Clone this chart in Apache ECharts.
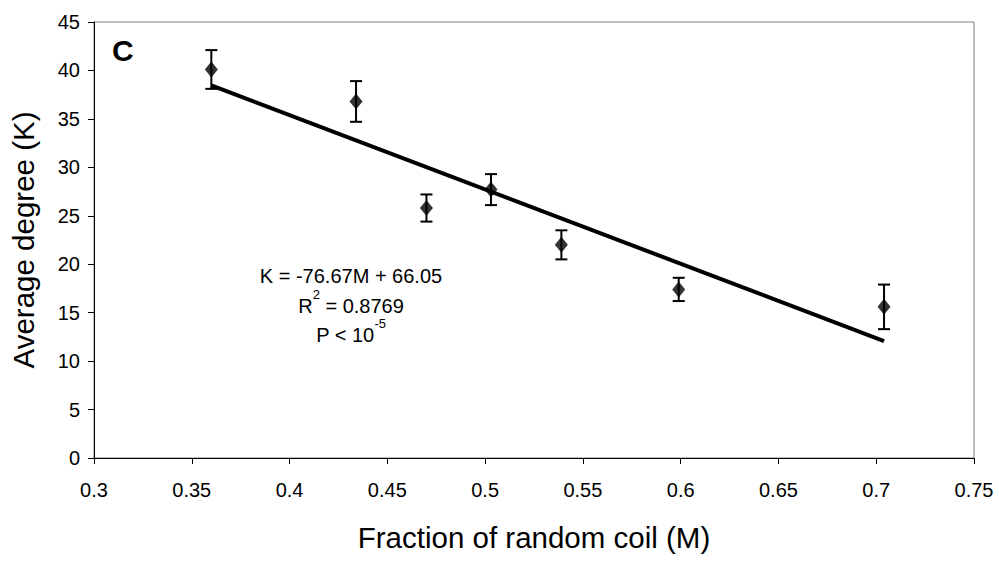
<!DOCTYPE html>
<html>
<head>
<meta charset="utf-8">
<script src="https://cdn.jsdelivr.net/npm/echarts@6/dist/echarts.min.js"></script>
<style>
  html, body { margin: 0; padding: 0; background: #fff; }
  #chart { width: 999px; height: 568px; }
</style>
</head>
<body>
<div id="chart"></div>
<script>
// data
var coilFraction = [0.36, 0.434, 0.47, 0.503, 0.539, 0.599, 0.704];
var avgDegree    = [40.1, 36.8, 25.8, 27.7, 22.0, 17.4, 15.6];
var errHalf      = [2.0, 2.1, 1.4, 1.6, 1.5, 1.2, 2.3];
var xTicks = [0.3, 0.35, 0.4, 0.45, 0.5, 0.55, 0.6, 0.65, 0.7, 0.75];
var yTicks = [0, 5, 10, 15, 20, 25, 30, 35, 40, 45];
var fitSlope = -76.67;
var fitIntercept = 66.05;

var FONT = 'Liberation Sans, Arial, sans-serif';

var points = coilFraction.map(function (x, i) { return [x, avgDegree[i]]; });
var errData = coilFraction.map(function (x, i) {
    return [x, avgDegree[i] - errHalf[i], avgDegree[i] + errHalf[i]];
});
var xLo = Math.min.apply(null, coilFraction);
var xHi = Math.max.apply(null, coilFraction);
var fitLine = [[xLo, fitSlope * xLo + fitIntercept], [xHi, fitSlope * xHi + fitIntercept]];

// rich styles for the superscripts in the annotation
var annRich = {
    n:   { fontFamily: FONT, fontSize: 20, lineHeight: 28, verticalAlign: 'bottom', fill: '#000' },
    sup: { fontFamily: FONT, fontSize: 13, lineHeight: 13, verticalAlign: 'top', fill: '#000' }
};

var chart = echarts.init(document.getElementById('chart'), null, { renderer: 'svg' });

var option = {
    animation: false,
    backgroundColor: '#fff',
    grid: {
        left: 94, right: 25, top: 22, bottom: 110,
        show: true,
        borderColor: '#808080',
        borderWidth: 1
    },
    xAxis: {
        type: 'value',
        min: xTicks[0],
        max: xTicks[xTicks.length - 1],
        interval: 0.05,
        name: 'Fraction of random coil (M)',
        nameLocation: 'middle',
        nameGap: 64,
        nameTextStyle: { fontFamily: FONT, fontSize: 29.5, color: '#000' },
        axisLine: { lineStyle: { color: '#000', width: 1 } },
        axisTick: { show: true, length: 6, lineStyle: { color: '#000' } },
        axisLabel: {
            fontFamily: FONT, fontSize: 20, color: '#000', margin: 22,
            formatter: function (v) { return String(parseFloat(v.toFixed(2))); }
        },
        splitLine: { show: false }
    },
    yAxis: {
        type: 'value',
        min: yTicks[0],
        max: yTicks[yTicks.length - 1],
        interval: 5,
        name: 'Average degree (K)',
        nameLocation: 'middle',
        nameRotate: 90,
        nameGap: 56,
        nameTextStyle: { fontFamily: FONT, fontSize: 29.5, color: '#000' },
        axisLine: { show: true, lineStyle: { color: '#000', width: 1 } },
        axisTick: { show: true, length: 6, lineStyle: { color: '#000' } },
        axisLabel: { fontFamily: FONT, fontSize: 20, color: '#000', margin: 14 },
        splitLine: { show: false }
    },
    series: [
        {
            // linear fit K = -76.67M + 66.05
            type: 'line',
            data: fitLine,
            symbol: 'none',
            lineStyle: { color: '#000', width: 4 },
            z: 2
        },
        {
            // error bars
            type: 'custom',
            data: errData,
            z: 3,
            renderItem: function (params, api) {
                var lo = api.coord([api.value(0), api.value(1)]);
                var hi = api.coord([api.value(0), api.value(2)]);
                var cap = 6;
                var st = { stroke: '#000', lineWidth: 2 };
                return {
                    type: 'group',
                    children: [
                        { type: 'line', shape: { x1: lo[0], y1: lo[1], x2: hi[0], y2: hi[1] }, style: st },
                        { type: 'line', shape: { x1: lo[0] - cap, y1: lo[1], x2: lo[0] + cap, y2: lo[1] }, style: st },
                        { type: 'line', shape: { x1: hi[0] - cap, y1: hi[1], x2: hi[0] + cap, y2: hi[1] }, style: st }
                    ]
                };
            }
        },
        {
            type: 'scatter',
            data: points,
            symbol: 'diamond',
            symbolSize: [13, 16],
            itemStyle: { color: '#000' },
            z: 4
        }
    ],
    graphic: [
        {
            type: 'text',
            left: 112, top: 35,
            style: { text: 'C', fontFamily: FONT, fontSize: 30, fontWeight: 'bold', fill: '#000' }
        },
        {
            type: 'text',
            x: 351, y: 276,
            style: {
                text: 'K = -76.67M + 66.05',
                fontFamily: FONT, fontSize: 20, fill: '#000',
                align: 'center', verticalAlign: 'middle'
            }
        },
        {
            type: 'text',
            x: 351, y: 302,
            style: {
                text: '{n|R}{sup|2}{n| = 0.8769}',
                align: 'center', verticalAlign: 'middle',
                rich: annRich
            }
        },
        {
            type: 'text',
            x: 351, y: 331,
            style: {
                text: '{n|P < 10}{sup|-5}',
                align: 'center', verticalAlign: 'middle',
                rich: annRich
            }
        }
    ]
};

chart.setOption(option);
</script>
</body>
</html>
